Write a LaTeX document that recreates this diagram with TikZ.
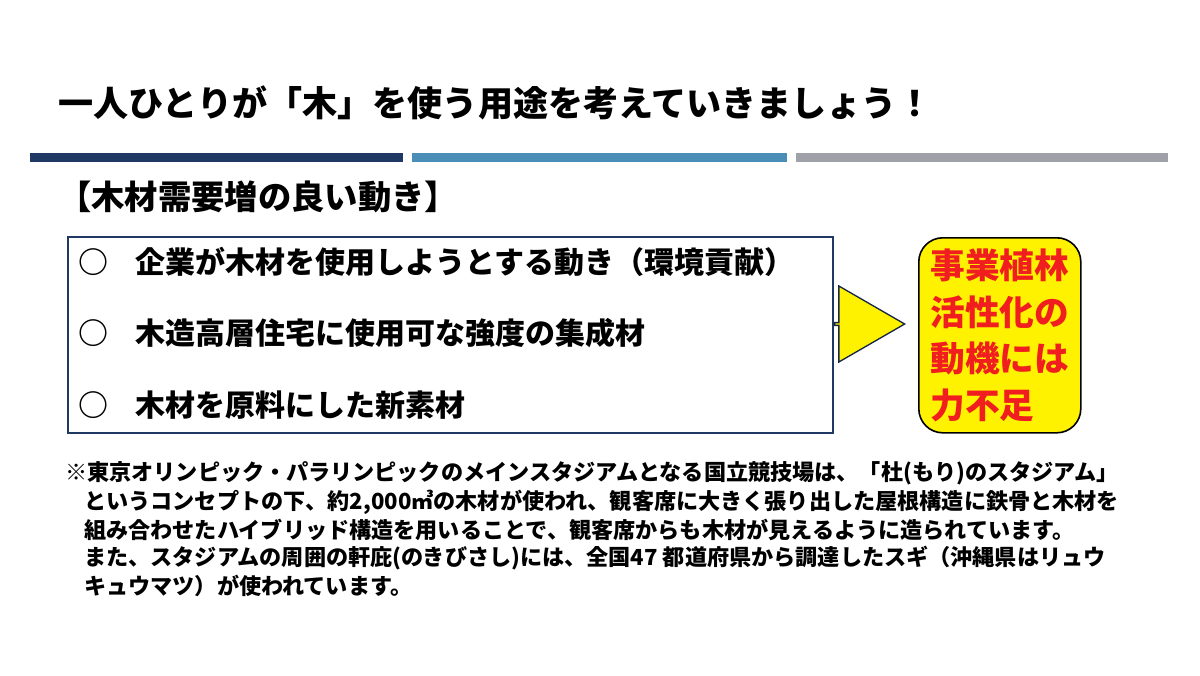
\documentclass[tikz,border=0pt]{standalone}
\usepackage{fontspec}
\setmainfont{Noto Sans CJK JP}
\usetikzlibrary{shapes.arrows}
\definecolor{navy}{HTML}{1F3864}
\definecolor{midblue}{HTML}{4A8DB7}
\definecolor{greybar}{HTML}{9EA2A8}
\definecolor{redtxt}{HTML}{F01E1E}
\begin{document}
\begin{tikzpicture}[x=0.75pt,y=-0.75pt,
  item/.style={anchor=west,inner sep=0pt,font=\fontsize{22.5}{26}\selectfont\bfseries},
  note/.style={anchor=west,inner sep=0pt,font=\fontsize{16.6}{19}\selectfont\bfseries}]
\useasboundingbox (0,0) rectangle (1200,675);
\node[anchor=west,inner sep=0pt,font=\fontsize{26.3}{30}\selectfont\bfseries] (title) at (58,103) {一人ひとりが「木」を使う用途を考えていきましょう！};
\fill[navy] (30,153) rectangle (403,162);
\fill[midblue] (412,153) rectangle (787,162);
\fill[greybar] (796,153) rectangle (1168,162);
\node[anchor=west,inner sep=0pt,font=\fontsize{25}{28}\selectfont\bfseries] (head) at (58,197) {【木材需要増の良い動き】};
\node[draw=navy,line width=1.5pt,minimum width=765*0.75pt,minimum height=196*0.75pt,anchor=north west,inner sep=0pt] (box) at (67,236) {};
\node[item] (i1) at (78,262) {○\hspace{0.9em}企業が木材を使用しようとする動き（環境貢献）};
\node[item] (i2) at (78,333) {○\hspace{0.9em}木造高層住宅に使用可な強度の集成材};
\node[item] (i3) at (78,405) {○\hspace{0.9em}木材を原料にした新素材};
\node[single arrow,draw=navy!70!black,fill=yellow,line width=1pt,minimum height=70*0.75pt,minimum width=76*0.75pt,single arrow head extend=18*0.75pt,single arrow tip angle=60,inner sep=0pt,anchor=tail] (arr) at (834,324) {};
\node[draw=black,fill=yellow,line width=1.2pt,rounded corners=18pt,minimum width=162*0.75pt,minimum height=195*0.75pt,anchor=north west] (res) at (918,237) {};
\node[text=redtxt,align=left,font=\fontsize{26}{35}\selectfont\bfseries] (rt) at (res.center) {事業植林\\活性化の\\動機には\\力不足};
\node[note] (n1) at (65,473) {※東京オリンピック・パラリンピックのメインスタジアムとなる国立競技場は、「杜(もり)のスタジアム」};
\node[note] (n2) at (84,502) {というコンセプトの下、約2,000㎥の木材が使われ、観客席に大きく張り出した屋根構造に鉄骨と木材を};
\node[note] (n3) at (84,530) {組み合わせたハイブリッド構造を用いることで、観客席からも木材が見えるように造られています。};
\node[note] (n4) at (84,558) {また、スタジアムの周囲の軒庇(のきびさし)には、全国47 都道府県から調達したスギ（沖縄県はリュウ};
\node[note] (n5) at (84,586) {キュウマツ）が使われています。};
\end{tikzpicture}
\end{document}
